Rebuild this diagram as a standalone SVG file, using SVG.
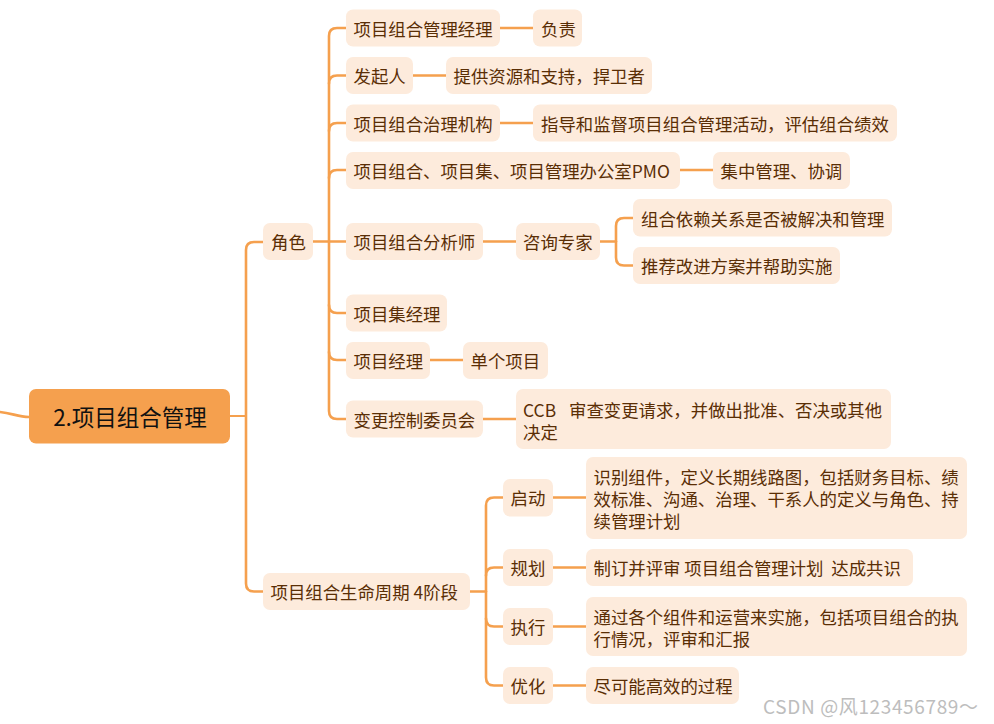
<svg xmlns="http://www.w3.org/2000/svg" width="994" height="724" viewBox="0 0 994 724">
<style>
.n{fill:#FDEBDC}
.t{font-family:"Noto Sans CJK SC","Noto Sans",sans-serif;font-size:17.4px;fill:#5A2E05;dominant-baseline:central}
.c{fill:none;stroke:#F5A04E;stroke-width:2.6;stroke-linecap:round}
</style>
<rect width="994" height="724" fill="#ffffff"/>
<g id="connectors">
<path class="c" d="M0,412 C12,413 18,417 29,417"/>
<path class="c" style="stroke-width:2" d="M230,416 H246"/>
<path class="c" d="M263,242 H254 Q246,242 246,250 V583.5 Q246,591.5 254,591.5 H263"/>
<path class="c" d="M313,241.5 H346"/>
<path class="c" d="M346,28 H337 Q329,28 329,36 V411 Q329,419 337,419 H346"/>
<path class="c" d="M329,83.5 Q329,75.5 337,75.5 H346"/>
<path class="c" d="M329,131 Q329,123 337,123 H346"/>
<path class="c" d="M329,178 Q329,170 337,170 H346"/>
<path class="c" d="M329,305 Q329,313 337,313 H346"/>
<path class="c" d="M329,352 Q329,360 337,360 H346"/>
<path class="c" d="M500,28 H533"/>
<path class="c" d="M413,75.5 H446"/>
<path class="c" d="M500,123 H533"/>
<path class="c" d="M680,170 H713"/>
<path class="c" d="M483,241.5 H516"/>
<path class="c" d="M600,241.5 H616"/>
<path class="c" d="M633,218 H624 Q616,218 616,226 V257.5 Q616,265.5 624,265.5 H633"/>
<path class="c" d="M430,360 H463"/>
<path class="c" d="M483,419 H516"/>
<path class="c" d="M470,591.5 H486"/>
<path class="c" d="M503,497.5 H494 Q486,497.5 486,505.5 V677.5 Q486,685.5 494,685.5 H503"/>
<path class="c" d="M486,575.5 Q486,567.5 494,567.5 H503"/>
<path class="c" d="M486,618.5 Q486,626.5 494,626.5 H503"/>
<path class="c" d="M553,497.5 H586"/>
<path class="c" d="M553,567.5 H586"/>
<path class="c" d="M553,626.5 H586"/>
<path class="c" d="M553,685.5 H586"/>
</g>
<g id="root">
<rect x="29" y="389" width="201" height="54.5" rx="7" fill="#F5A04E"/>
<text x="130" y="416" text-anchor="middle" style="font-family:'Noto Sans CJK SC','Noto Sans',sans-serif;font-size:22.5px;fill:#111;dominant-baseline:central">2.项目组合管理</text>
</g>
<g id="role">
<rect class="n" x="263" y="223" width="50" height="37" rx="7"/>
<text class="t" x="271" y="241.5">角色</text>
</g>
<g id="pm-manager">
<rect class="n" x="346" y="9.5" width="154" height="37" rx="7"/>
<text class="t" x="353.5" y="28">项目组合管理经理</text>
</g>
<g id="pm-manager-d">
<rect class="n" x="533" y="9.5" width="49" height="37" rx="7"/>
<text class="t" x="541" y="28">负责</text>
</g>
<g id="sponsor">
<rect class="n" x="346" y="57" width="67" height="37" rx="7"/>
<text class="t" x="353.5" y="75.5">发起人</text>
</g>
<g id="sponsor-d">
<rect class="n" x="446" y="57" width="206" height="37" rx="7"/>
<text class="t" x="453.5" y="75.5">提供资源和支持，捍卫者</text>
</g>
<g id="governance">
<rect class="n" x="346" y="104.5" width="154" height="37" rx="7"/>
<text class="t" x="353.5" y="123">项目组合治理机构</text>
</g>
<g id="governance-d">
<rect class="n" x="533" y="104.5" width="364" height="37" rx="7"/>
<text class="t" x="541" y="123">指导和监督项目组合管理活动，评估组合绩效</text>
</g>
<g id="pmo">
<rect class="n" x="346" y="152" width="334" height="37" rx="7"/>
<text class="t" x="353.5" y="170">项目组合、项目集、项目管理办公室PMO</text>
</g>
<g id="pmo-d">
<rect class="n" x="713" y="152" width="137" height="37" rx="7"/>
<text class="t" x="720.5" y="170">集中管理、协调</text>
</g>
<g id="analyst">
<rect class="n" x="346" y="223" width="137" height="37" rx="7"/>
<text class="t" x="353.5" y="241.5">项目组合分析师</text>
</g>
<g id="consultant">
<rect class="n" x="516" y="223" width="84" height="37" rx="7"/>
<text class="t" x="523" y="241.5">咨询专家</text>
</g>
<g id="consultant-1">
<rect class="n" x="633" y="199" width="259" height="37.5" rx="7"/>
<text class="t" x="641" y="218">组合依赖关系是否被解决和管理</text>
</g>
<g id="consultant-2">
<rect class="n" x="633" y="247" width="207" height="37" rx="7"/>
<text class="t" x="641" y="265.5">推荐改进方案并帮助实施</text>
</g>
<g id="program-manager">
<rect class="n" x="346" y="294.5" width="101" height="37" rx="7"/>
<text class="t" x="353.5" y="313">项目集经理</text>
</g>
<g id="project-manager">
<rect class="n" x="346" y="342" width="84" height="37" rx="7"/>
<text class="t" x="353.5" y="360">项目经理</text>
</g>
<g id="project-manager-d">
<rect class="n" x="463" y="342" width="85" height="37" rx="7"/>
<text class="t" x="470.5" y="360">单个项目</text>
</g>
<g id="ccb">
<rect class="n" x="346" y="400.5" width="137" height="37" rx="7"/>
<text class="t" x="353.5" y="419">变更控制委员会</text>
</g>
<g id="ccb-d">
<rect class="n" x="516" y="389" width="375" height="60" rx="7"/>
<text class="t" x="523" y="409">CCB<tspan x="569">审查变更请求，并做出批准、否决或其他</tspan><tspan x="523" dy="22">决定</tspan></text>
</g>
<g id="lifecycle">
<rect class="n" x="263" y="573" width="207" height="37" rx="7"/>
<text class="t" x="270.5" y="591.5" xml:space="preserve">项目组合生命周期 4阶段</text>
</g>
<g id="initiate">
<rect class="n" x="503" y="479" width="50" height="37.5" rx="7"/>
<text class="t" x="510.5" y="497.5">启动</text>
</g>
<g id="initiate-d">
<rect class="n" x="586" y="457" width="381" height="82" rx="7"/>
<text class="t" x="593.5" y="476">识别组件，定义长期线路图，包括财务目标、绩<tspan x="593.5" dy="22">效标准、沟通、治理、干系人的定义与角色、持</tspan><tspan x="593.5" dy="22">续管理计划</tspan></text>
</g>
<g id="plan">
<rect class="n" x="503" y="549" width="50" height="37" rx="7"/>
<text class="t" x="510.5" y="567.5">规划</text>
</g>
<g id="plan-d">
<rect class="n" x="586" y="549" width="327" height="37" rx="7"/>
<text class="t" x="593.5" y="567.5" xml:space="preserve">制订并评审 项目组合管理计划  达成共识</text>
</g>
<g id="execute">
<rect class="n" x="503" y="608" width="50" height="37" rx="7"/>
<text class="t" x="510.5" y="626.5">执行</text>
</g>
<g id="execute-d">
<rect class="n" x="586" y="597" width="381" height="59" rx="7"/>
<text class="t" x="593.5" y="616">通过各个组件和运营来实施，包括项目组合的执<tspan x="593.5" dy="21.5">行情况，评审和汇报</tspan></text>
</g>
<g id="optimize">
<rect class="n" x="503" y="667" width="50" height="37" rx="7"/>
<text class="t" x="510.5" y="685.5">优化</text>
</g>
<g id="optimize-d">
<rect class="n" x="586" y="667" width="153" height="37" rx="7"/>
<text class="t" x="593.5" y="685.5">尽可能高效的过程</text>
</g>
<text x="763" y="705" textLength="215" lengthAdjust="spacing" style="font-family:'Noto Sans CJK SC','Noto Sans',sans-serif;font-size:19px;fill:#BDBDBD;dominant-baseline:central">CSDN @风123456789～</text>
</svg>
